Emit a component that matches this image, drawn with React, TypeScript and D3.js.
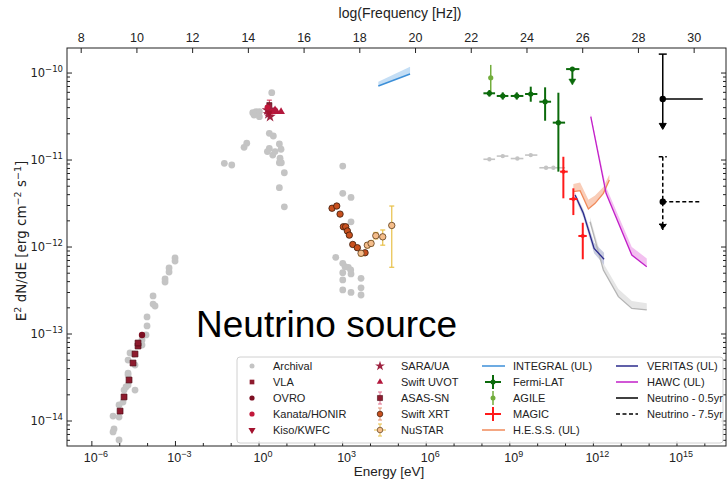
import React from "react";
import * as d3 from "d3";

// plot frame (px)
const L = 67, R = 726, T = 48, B = 446;
const LOG_HZ_PER_EV = 14.3834;

// Archival: [E (eV), E^2 dN/dE (erg cm^-2 s^-1)]
const archival: [number, number][] = [
  // radio
  [9.66e-4, 7.48e-13], [9.66e-4, 6.9e-13], [5.89e-4, 5.74e-13], [5.89e-4, 5.16e-13],
  [4.23e-4, 4.29e-13], [4.23e-4, 3.96e-13], [1.57e-4, 2.74e-13], [1.57e-4, 2.21e-13],
  [1.85e-4, 2.1e-13], [9.55e-5, 1.57e-13], [9.55e-5, 1.24e-13], [8.79e-5, 9.75e-14],
  [6.31e-5, 8.54e-14], [6.31e-5, 7.48e-14], [2.34e-5, 6.05e-14], [3.26e-5, 5.89e-14],
  [1.99e-5, 5.02e-14], [3.54e-5, 4.4e-14], [1.99e-5, 3.56e-14], [1.99e-5, 3.38e-14],
  [1.99e-5, 2.59e-14], [1.68e-5, 2.46e-14], [3.54e-5, 2.27e-14], [1.43e-5, 2.27e-14],
  [1.31e-5, 1.65e-14], [9.44e-6, 1.53e-14], [9.44e-6, 1.11e-14], [5.75e-6, 1.14e-14],
  [6.24e-6, 8.09e-15], [5.75e-6, 7.48e-15], [9.44e-6, 6.05e-15],
  // optical / UV
  [2.86, 5.94e-11], [0.594, 3.5e-11], [0.78, 3.59e-11], [1.03, 3.59e-11], [1.03, 3.15e-11],
  [0.662, 3.29e-11], [2.34, 2.03e-11], [3.26, 1.89e-11], [0.362, 1.56e-11], [0.29, 1.4e-11],
  [5.36, 1.53e-11], [6.16, 1.33e-11], [2.34, 1.36e-11], [1.99, 1.25e-11], [3.1, 1.14e-11],
  [3.75, 1.25e-11], [5.67, 1.05e-11], [5.36, 9.31e-12], [6.31, 9.31e-12], [0.0568, 9.16e-12],
  [0.105, 8.77e-12], [8.09, 7.14e-12], [5.36, 4.81e-12], [8.09, 2.9e-12],
  // X-ray
  [1.01e3, 8.53e-12], [1.01e3, 4.14e-12], [2.0e3, 3.72e-12], [2.0e3, 1.95e-12], [566, 7.62e-13],
  [1.01e3, 6.5e-13], [1.22e3, 5.94e-13], [1.6e3, 5.85e-13], [1.95e3, 5.45e-13], [2.0e3, 4.9e-13],
  [1.01e3, 5.07e-13], [1.01e3, 4.18e-13], [4.58e3, 4.37e-13], [1.01e3, 3.21e-13], [2.0e3, 3.01e-13],
  [4.58e3, 3.4e-13], [4.58e3, 2.81e-13],
];

// archival gamma-ray: [E, flux, E low, E high]
const archivalGamma: [number, number, number, number][] = [
  [1.85e8, 1.02e-11, 1.13e8, 2.96e8],
  [5.59e8, 1.11e-11, 3.4e8, 8.87e8],
  [1.87e9, 1.04e-11, 1.08e9, 3.07e9],
  [5.65e9, 1.14e-11, 3.53e9, 9.75e9],
  [2.0e10, 8.15e-12, 1.15e10, 3.1e10],
  [3.66e10, 8.15e-12, 3.1e10, 9.64e10],
];

const vla: [number, number][] = [
  [1.03e-5, 1.3e-14], [1.43e-5, 1.89e-14], [2.16e-5, 2.96e-14], [3.0e-5, 4.64e-14],
  [3.54e-5, 5.89e-14], [4.54e-5, 7.28e-14], [4.54e-5, 7.88e-14],
];
const ovro: [number, number][] = [[6.31e-5, 9.75e-14]];
const kanata: [number, number][] = [[2.86, 3.59e-11], [1.99, 4.03e-11]];
const kiso: [number, number][] = [[2.34, 3.5e-11]];
const sara: [number, number][] = [[1.99, 3.76e-11], [2.63, 3.83e-11], [2.16, 3.38e-11], [2.48, 3.15e-11]];
const uvot: [number, number][] = [[4.32, 3.59e-11], [6.16, 3.59e-11], [3.75, 3.76e-11]];
// [E, flux, flux low, flux high]
const asassn: [number, number, number, number][] = [[2.34, 4.28e-11, 3.76e-11, 4.88e-11]];

const swiftXrt: [number, number][] = [
  [417, 2.79e-12], [615, 2.96e-12], [808, 2.39e-12], [1.06e3, 1.71e-12], [1.29e3, 1.71e-12],
  [1.48e3, 1.53e-12], [1.74e3, 1.37e-12], [2.31e3, 1.07e-12], [3.37e3, 9.82e-13], [6.38e3, 8.59e-13],
];
// [E, flux, E low, E high, flux low, flux high]
const nustar: [number, number, number, number, number, number][] = [
  [4.58e3, 8.47e-13, 4.2e3, 5.0e3, 7.9e-13, 9.1e-13],
  [7.71e3, 1.05e-12, 7.1e3, 8.4e3, 9.8e-13, 1.12e-12],
  [1.05e4, 1.1e-12, 9.6e3, 1.15e4, 1.03e-12, 1.18e-12],
  [1.55e4, 1.35e-12, 1.4e4, 1.7e4, 1.24e-12, 1.47e-12],
  [2.75e4, 1.31e-12, 2.4e4, 3.1e4, 1.05e-12, 1.57e-12],
  [5.8e4, 1.77e-12, 4.4e4, 7.6e4, 5.85e-13, 2.96e-12],
];

const integralE = [1.91e4, 2.63e5];
const integralF = [7.1e-11, 9.74e-11];
const integralUp = [7.94e-11, 1.18e-10];

const fermi: [number, number, number, number, number, number][] = [
  [1.85e8, 5.85e-11, 1.13e8, 2.96e8, 5.35e-11, 6.38e-11],
  [5.59e8, 5.45e-11, 3.4e8, 8.87e8, 4.95e-11, 6.0e-11],
  [1.78e9, 5.45e-11, 1.08e9, 3.07e9, 4.95e-11, 6.0e-11],
  [5.65e9, 5.74e-11, 3.53e9, 9.75e9, 4.68e-11, 6.97e-11],
  [1.85e10, 4.68e-11, 1.15e10, 3.03e10, 2.83e-11, 6.85e-11],
  [5.54e10, 2.69e-11, 3.48e10, 9.64e10, 7.35e-12, 5.94e-11],
];
// [E, flux, E low, E high, arrow tip]
const fermiUL: [number, number, number, number, number][] = [[1.76e11, 1.11e-10, 1.05e11, 3.14e11, 7.28e-11]];
// [E, flux, flux low, flux high]
const agile: [number, number, number, number][] = [[2.07e8, 8.83e-11, 5.85e-11, 1.24e-10]];

const magic: [number, number, number, number, number, number][] = [
  [8.36e10, 7.35e-12, 6.37e10, 1.2e11, 3.63e-12, 1.09e-11],
  [1.91e11, 3.56e-12, 1.37e11, 2.66e11, 2.33e-12, 4.73e-12],
  [4.16e11, 1.34e-12, 2.89e11, 5.78e11, 7.23e-13, 1.9e-12],
];

const hessE = [1.91e11, 3.33e11, 6.61e11, 1.15e12, 2.28e12, 3.75e12];
const hessF = [4.33e-12, 4.44e-12, 2.74e-12, 3.18e-12, 4.14e-12, 5.89e-12];
const hessUp = [5.3e-12, 5.5e-12, 3.5e-12, 3.9e-12, 4.9e-12, 6.8e-12];

const veritasE = [2.2e11, 4.37e11, 1.06e12, 2.42e12];
const veritasF = [3.96e-12, 2.44e-12, 9.66e-13, 7.23e-13];
const veritasLo = [3.7e-12, 2.2e-12, 8.5e-13, 6.2e-13];
const veritasHi = [4.2e-12, 2.7e-12, 1.12e-12, 8.6e-13];

const vheE = [7.6e11, 2.28e12, 7.89e12, 2.39e13, 8.24e13];
const vheF = [1.95e-12, 5.45e-13, 2.69e-13, 1.97e-13, 1.89e-13];
const vheUp = [2.2e-12, 6.5e-13, 3.3e-13, 2.4e-13, 2.25e-13];

const hawcE = [8.05e11, 2.85e12, 2.39e13, 8.24e13];
const hawcF = [3.15e-11, 4.14e-12, 8.09e-13, 5.94e-13];
const hawcUp = [3.4e-11, 4.9e-12, 1.0e-12, 7.4e-13];

// [E, flux, E high, flux cap, arrow tip]
const neutrino05 = [3.09e14, 5.02e-11, 8.44e15, 1.65e-10, 2.25e-11];
const neutrino75 = [3.09e14, 3.32e-12, 6.75e15, 1.09e-11, 1.57e-12];

const yDecades = [-14, -13, -12, -11, -10];
const xMajor = [-6, -3, 0, 3, 6, 9, 12, 15];
const freqTicks = [8, 10, 12, 14, 16, 18, 20, 22, 24, 26, 28, 30];

const C = {
  grey: "#c4c4c4",
  vla: "#8e1b2e",
  ovro: "#7d0f22",
  kanata: "#c2183a",
  kiso: "#a3122e",
  sara: "#9e2240",
  uvot: "#b3173c",
  xrt: "#c8501e",
  nustar: "#f5bd8a",
  nustarErr: "#e8c048",
  integral: "#3c8fd8",
  fermi: "#0b6a0b",
  agile: "#72ad3c",
  magic: "#ff1a1a",
  hess: "#f08a5a",
  veritas: "#2b2b8c",
  hawc: "#c21fc9",
  vhe: "#b5b5b5",
};

const sym = (t: d3.SymbolType, s: number) => d3.symbol(t, s)() as string;
const minus = (n: number) => (n < 0 ? "\u2212" + Math.abs(n) : String(n));

const arrow = (cx: number, tip: number) => `M${cx - 3.5},${tip - 6}L${cx + 3.5},${tip - 6}L${cx},${tip}Z`;

export default function App() {
  const x = d3.scaleLog().domain([1.28e-7, 5.75e16]).range([L, R]);
  const y = d3.scaleLog().domain([5.16e-15, 1.94e-10]).range([B, T]);
  const nu = d3
    .scaleLinear()
    .domain(x.domain().map((e) => Math.log10(e) + LOG_HZ_PER_EV))
    .range([L, R]);

  const band = (E: number[], lo: number[], hi: number[]) =>
    d3
      .area<number>()
      .x((_, i) => x(E[i]))
      .y0((_, i) => y(lo[i]))
      .y1((_, i) => y(hi[i]))(E) as string;
  const line = (E: number[], F: number[]) =>
    d3
      .line<number>()
      .x((_, i) => x(E[i]))
      .y((_, i) => y(F[i]))(E) as string;

  const yMinor: number[] = [];
  for (let d = -15; d <= -10; d++)
    for (let k = 2; k <= 9; k++) {
      const v = k * Math.pow(10, d);
      if (v > y.domain()[0] && v < y.domain()[1]) yMinor.push(v);
    }
  const xMinor = d3.range(-6, 17).filter((d) => !xMajor.includes(d));

  const neutrino = (n: number[], dash?: string) => {
    const cx = x(n[0]);
    const cy = y(n[1]);
    const tip = y(n[4]);
    return (
      <g stroke="#000" strokeWidth={1.5} strokeDasharray={dash}>
        <line x1={cx} x2={cx} y1={y(n[3])} y2={tip - 5} />
        <line x1={cx - 4} x2={cx + 4} y1={y(n[3])} y2={y(n[3])} strokeDasharray={undefined} />
        <line x1={cx} x2={x(n[2])} y1={cy} y2={cy} />
        <path d={arrow(cx, tip)} fill="#000" strokeDasharray={undefined} strokeWidth={1} />
        <circle cx={cx} cy={cy} r={3.2} fill="#000" stroke="none" />
      </g>
    );
  };

  // legend
  const rows = [366, 382, 398, 414, 430];
  const legendGlyph = (kind: string, cx: number, cy: number) => {
    switch (kind) {
      case "Archival":
        return <circle cx={cx} cy={cy} r={2.5} fill={C.grey} />;
      case "VLA":
        return <path d={sym(d3.symbolSquare, 22)} transform={`translate(${cx},${cy})`} fill={C.vla} />;
      case "OVRO":
        return <circle cx={cx} cy={cy} r={2.6} fill={C.ovro} />;
      case "Kanata/HONIR":
        return <circle cx={cx} cy={cy} r={2.6} fill={C.kanata} />;
      case "Kiso/KWFC":
        return <path d={sym(d3.symbolTriangle, 22)} transform={`translate(${cx},${cy}) rotate(180)`} fill={C.kiso} />;
      case "SARA/UA":
        return <path d={sym(d3.symbolStar, 30)} transform={`translate(${cx},${cy})`} fill={C.sara} />;
      case "Swift UVOT":
        return <path d={sym(d3.symbolTriangle, 18)} transform={`translate(${cx},${cy})`} fill={C.uvot} />;
      case "ASAS-SN":
        return (
          <g>
            <line x1={cx} x2={cx} y1={cy - 6} y2={cy + 6} stroke="#e07090" strokeWidth={1} />
            <line x1={cx - 2} x2={cx + 2} y1={cy - 6} y2={cy - 6} stroke="#e07090" />
            <line x1={cx - 2} x2={cx + 2} y1={cy + 6} y2={cy + 6} stroke="#e07090" />
            <path d={sym(d3.symbolSquare, 26)} transform={`translate(${cx},${cy})`} fill={C.vla} stroke="#4d0a14" strokeWidth={0.6} />
          </g>
        );
      case "Swift XRT":
        return (
          <g>
            <line x1={cx} x2={cx} y1={cy - 6} y2={cy + 6} stroke="#e09070" />
            <line x1={cx - 2} x2={cx + 2} y1={cy - 6} y2={cy - 6} stroke="#e09070" />
            <line x1={cx - 2} x2={cx + 2} y1={cy + 6} y2={cy + 6} stroke="#e09070" />
            <circle cx={cx} cy={cy} r={2.8} fill={C.xrt} stroke="#3a1a0a" strokeWidth={0.7} />
          </g>
        );
      case "NuSTAR":
        return (
          <g stroke={C.nustarErr}>
            <line x1={cx} x2={cx} y1={cy - 6} y2={cy + 6} />
            <line x1={cx - 6} x2={cx + 6} y1={cy} y2={cy} />
            <line x1={cx - 2} x2={cx + 2} y1={cy - 6} y2={cy - 6} />
            <line x1={cx - 2} x2={cx + 2} y1={cy + 6} y2={cy + 6} />
            <circle cx={cx} cy={cy} r={2.8} fill={C.nustar} stroke="#5a3a1a" strokeWidth={0.7} />
          </g>
        );
      case "Fermi-LAT":
        return (
          <g stroke={C.fermi} strokeWidth={2}>
            <line x1={cx - 8} x2={cx + 8} y1={cy} y2={cy} />
            <line x1={cx} x2={cx} y1={cy - 7} y2={cy + 7} />
            <circle cx={cx} cy={cy} r={2.5} fill={C.fermi} stroke="none" />
          </g>
        );
      case "AGILE":
        return (
          <g stroke={C.agile} strokeWidth={1.5}>
            <line x1={cx} x2={cx} y1={cy - 7} y2={cy + 7} />
            <circle cx={cx} cy={cy} r={2.5} fill={C.agile} stroke="none" />
          </g>
        );
      case "MAGIC":
        return (
          <g stroke={C.magic} strokeWidth={2}>
            <line x1={cx - 8} x2={cx + 8} y1={cy} y2={cy} />
            <line x1={cx} x2={cx} y1={cy - 7} y2={cy + 7} />
          </g>
        );
      default:
        return null;
    }
  };
  const col1 = ["Archival", "VLA", "OVRO", "Kanata/HONIR", "Kiso/KWFC"];
  const col2 = ["SARA/UA", "Swift UVOT", "ASAS-SN", "Swift XRT", "NuSTAR"];
  const col3: [string, string, string][] = [
    ["INTEGRAL (UL)", "line", C.integral],
    ["Fermi-LAT", "glyph", C.fermi],
    ["AGILE", "glyph", C.agile],
    ["MAGIC", "glyph", C.magic],
    ["H.E.S.S. (UL)", "line", C.hess],
  ];
  const col4: [string, string, string][] = [
    ["VERITAS (UL)", "line", C.veritas],
    ["HAWC (UL)", "line", C.hawc],
    ["Neutrino - 0.5yr", "line", "#000"],
    ["Neutrino - 7.5yr", "dash", "#000"],
  ];

  const errCross = (
    d: [number, number, number, number, number, number],
    color: string,
    w: number,
    key: number,
    dot: number
  ) => (
    <g key={key} stroke={color} strokeWidth={w}>
      <line x1={x(d[2])} x2={x(d[3])} y1={y(d[1])} y2={y(d[1])} />
      <line x1={x(d[0])} x2={x(d[0])} y1={y(d[4])} y2={y(d[5])} />
      {dot > 0 && <circle cx={x(d[0])} cy={y(d[1])} r={dot} fill={color} stroke="none" />}
    </g>
  );

  return (
    <svg width={727} height={481} style={{ position: "absolute", left: 0, top: 0, background: "#fff" }}>
      {/* bands */}
      <path d={band(integralE, integralF, integralUp)} fill="#c4def5" />
      <path d={band(vheE, vheF, vheUp)} fill="#e6e6e6" />
      <path d={band(hessE, hessF, hessUp)} fill="#f9cdb8" />
      <path d={band(veritasE, veritasLo, veritasHi)} fill="#c8cce0" />
      <path d={band(hawcE, hawcF, hawcUp)} fill="#f3c0f0" />

      {/* archival */}
      {archival.map((d, i) => (
        <circle key={i} cx={x(d[0])} cy={y(d[1])} r={3.4} fill={C.grey} />
      ))}
      {archivalGamma.map((d, i) => (
        <g key={i} stroke={C.grey} strokeWidth={1.6}>
          <line x1={x(d[2])} x2={x(d[3])} y1={y(d[1])} y2={y(d[1])} />
          <circle cx={x(d[0])} cy={y(d[1])} r={2.2} fill={C.grey} stroke="none" />
        </g>
      ))}

      {/* radio / optical */}
      {vla.map((d, i) => (
        <path key={i} d={sym(d3.symbolSquare, 34)} transform={`translate(${x(d[0])},${y(d[1])})`} fill={C.vla} stroke="#4d0a14" strokeWidth={0.7} />
      ))}
      {ovro.map((d, i) => (
        <circle key={i} cx={x(d[0])} cy={y(d[1])} r={3.2} fill={C.ovro} />
      ))}
      {asassn.map((d, i) => (
        <g key={i}>
          <line x1={x(d[0])} x2={x(d[0])} y1={y(d[2])} y2={y(d[3])} stroke="#d03050" />
          <line x1={x(d[0]) - 2.5} x2={x(d[0]) + 2.5} y1={y(d[3])} y2={y(d[3])} stroke="#d03050" />
          <path d={sym(d3.symbolSquare, 26)} transform={`translate(${x(d[0])},${y(d[1])})`} fill={C.vla} stroke="#4d0a14" strokeWidth={0.6} />
        </g>
      ))}
      {sara.map((d, i) => (
        <path key={i} d={sym(d3.symbolStar, 40)} transform={`translate(${x(d[0])},${y(d[1])})`} fill={C.sara} />
      ))}
      {kanata.map((d, i) => (
        <circle key={i} cx={x(d[0])} cy={y(d[1])} r={2.8} fill={C.kanata} />
      ))}
      {kiso.map((d, i) => (
        <path key={i} d={sym(d3.symbolTriangle, 28)} transform={`translate(${x(d[0])},${y(d[1])}) rotate(180)`} fill={C.kiso} />
      ))}
      {uvot.map((d, i) => (
        <path key={i} d={sym(d3.symbolTriangle, 26)} transform={`translate(${x(d[0])},${y(d[1])})`} fill={C.uvot} />
      ))}

      {/* X-ray */}
      {nustar.map((d, i) => (
        <g key={i} stroke={C.nustarErr} strokeWidth={1.2}>
          <line x1={x(d[2])} x2={x(d[3])} y1={y(d[1])} y2={y(d[1])} />
          <line x1={x(d[0])} x2={x(d[0])} y1={y(d[4])} y2={y(d[5])} />
          <line x1={x(d[0]) - 2.5} x2={x(d[0]) + 2.5} y1={y(d[4])} y2={y(d[4])} />
          <line x1={x(d[0]) - 2.5} x2={x(d[0]) + 2.5} y1={y(d[5])} y2={y(d[5])} />
        </g>
      ))}
      {swiftXrt.map((d, i) => (
        <circle key={i} cx={x(d[0])} cy={y(d[1])} r={3.2} fill={C.xrt} stroke="#3a1a0a" strokeWidth={0.8} />
      ))}
      {nustar.map((d, i) => (
        <circle key={i} cx={x(d[0])} cy={y(d[1])} r={3.2} fill={C.nustar} stroke="#5a3a1a" strokeWidth={0.8} />
      ))}
      <path d={line(integralE, integralF)} fill="none" stroke={C.integral} strokeWidth={1.5} />

      {/* gamma rays */}
      {agile.map((d, i) => (
        <g key={i} stroke={C.agile} strokeWidth={1.5}>
          <line x1={x(d[0])} x2={x(d[0])} y1={y(d[2])} y2={y(d[3])} />
          <circle cx={x(d[0])} cy={y(d[1])} r={2.6} fill={C.agile} stroke="none" />
        </g>
      ))}
      {fermi.map((d, i) => errCross(d, C.fermi, 2, i, 2.6))}
      {fermiUL.map((d, i) => (
        <g key={i} stroke={C.fermi} strokeWidth={2}>
          <line x1={x(d[2])} x2={x(d[3])} y1={y(d[1])} y2={y(d[1])} />
          <line x1={x(d[0])} x2={x(d[0])} y1={y(d[1])} y2={y(d[4]) - 5} />
          <path d={arrow(x(d[0]), y(d[4]))} fill={C.fermi} strokeWidth={0.5} />
          <circle cx={x(d[0])} cy={y(d[1])} r={2.6} fill={C.fermi} stroke="none" />
        </g>
      ))}
      <path d={line(vheE, vheF)} fill="none" stroke={C.vhe} strokeWidth={1.3} />
      <path d={line(hessE, hessF)} fill="none" stroke={C.hess} strokeWidth={1.3} />
      <path d={line(veritasE, veritasF)} fill="none" stroke={C.veritas} strokeWidth={1.3} />
      <path d={line(hawcE, hawcF)} fill="none" stroke={C.hawc} strokeWidth={1.3} />
      {magic.map((d, i) => errCross(d, C.magic, 2, i, 2))}

      {/* neutrino */}
      {neutrino(neutrino05)}
      {neutrino(neutrino75, "4,2.5")}

      {/* frame and ticks */}
      <rect x={L} y={T} width={R - L} height={B - T} fill="none" stroke="#222" strokeWidth={1} />
      <g stroke="#222" strokeWidth={1}>
        {yDecades.map((d) => (
          <g key={d}>
            <line x1={L} x2={L + 5} y1={y(Math.pow(10, d))} y2={y(Math.pow(10, d))} />
            <line x1={R} x2={R - 5} y1={y(Math.pow(10, d))} y2={y(Math.pow(10, d))} />
          </g>
        ))}
        {yMinor.map((v, i) => (
          <g key={i}>
            <line x1={L} x2={L + 3} y1={y(v)} y2={y(v)} />
            <line x1={R} x2={R - 3} y1={y(v)} y2={y(v)} />
          </g>
        ))}
        {xMajor.map((d) => (
          <line key={d} x1={x(Math.pow(10, d))} x2={x(Math.pow(10, d))} y1={B} y2={B - 5} />
        ))}
        {xMinor.map((d) => (
          <line key={d} x1={x(Math.pow(10, d))} x2={x(Math.pow(10, d))} y1={B} y2={B - 3} />
        ))}
        {freqTicks.map((t) => (
          <line key={t} x1={nu(t)} x2={nu(t)} y1={T} y2={T + 5} />
        ))}
      </g>

      {/* tick labels */}
      <g fontFamily="'DejaVu Sans', sans-serif" fontSize={11.5} fill="#222" textAnchor="end">
        {yDecades.map((d) => (
          <text key={d} x={L - 4} y={y(Math.pow(10, d)) + 4}>
            10<tspan dy={-5} fontSize={8.5}>{minus(d)}</tspan>
          </text>
        ))}
      </g>
      <g fontFamily="'Liberation Sans', Arial, sans-serif" fontSize={12.5} fill="#222" textAnchor="middle">
        {xMajor.map((d) => (
          <text key={d} x={x(Math.pow(10, d)) + 4} y={462}>
            10<tspan dy={-5} fontSize={9}>{minus(d)}</tspan>
          </text>
        ))}
        {freqTicks.map((t) => (
          <text key={t} x={nu(t)} y={42}>
            {t}
          </text>
        ))}
        <text x={389} y={476} fontSize={13.5}>Energy [eV]</text>
        <text x={400} y={18} fontSize={14}>log(Frequency [Hz])</text>
      </g>
      <text
        transform="translate(26,241) rotate(-90)"
        textAnchor="middle"
        fontFamily="'DejaVu Sans', sans-serif"
        fontSize={13.5}
        fill="#222"
      >
        E<tspan dy={-5} fontSize={9.5}>2</tspan>
        <tspan dy={5}> dN/dE [erg cm</tspan>
        <tspan dy={-5} fontSize={9.5}>{"\u22122"}</tspan>
        <tspan dy={5}> s</tspan>
        <tspan dy={-5} fontSize={9.5}>{"\u22121"}</tspan>
        <tspan dy={5}>]</tspan>
      </text>

      {/* big label */}
      <text x={196} y={337} fontFamily="'Liberation Sans', Arial, sans-serif" fontSize={37} fill="#000">
        Neutrino source
      </text>

      {/* legend */}
      <rect x={237} y={357} width={486} height={86} rx={3} fill="#fff" fillOpacity={0.85} stroke="#d0d0d0" />
      <g fontFamily="'Liberation Sans', Arial, sans-serif" fontSize={11} fill="#222">
        {col1.map((k, i) => (
          <g key={k}>
            {legendGlyph(k, 252, rows[i])}
            <text x={273} y={rows[i] + 4}>{k}</text>
          </g>
        ))}
        {col2.map((k, i) => (
          <g key={k}>
            {legendGlyph(k, 380, rows[i])}
            <text x={401} y={rows[i] + 4}>{k}</text>
          </g>
        ))}
        {col3.map(([k, t, c], i) => (
          <g key={k}>
            {t === "line" ? (
              <line x1={482} x2={505} y1={rows[i]} y2={rows[i]} stroke={c} strokeWidth={1.5} />
            ) : (
              legendGlyph(k, 493, rows[i])
            )}
            <text x={513} y={rows[i] + 4}>{k}</text>
          </g>
        ))}
        {col4.map(([k, t, c], i) => (
          <g key={k}>
            <line
              x1={616}
              x2={638}
              y1={rows[i]}
              y2={rows[i]}
              stroke={c}
              strokeWidth={1.5}
              strokeDasharray={t === "dash" ? "4,2.5" : undefined}
            />
            <text x={647} y={rows[i] + 4}>{k}</text>
          </g>
        ))}
      </g>
    </svg>
  );
}
